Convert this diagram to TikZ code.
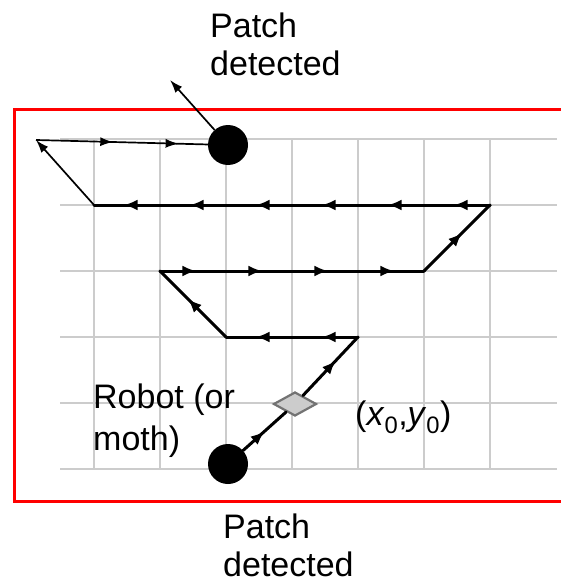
\documentclass[tikz,border=0pt]{standalone}
\usepackage{fontspec}
\setmainfont{Liberation Sans}
\usetikzlibrary{arrows.meta, shapes.geometric, decorations.markings}

\begin{document}
\begin{tikzpicture}[x=1pt, y=-1pt, >={Latex[length=14pt,width=11pt]},
    gridline/.style={black!20, line width=1.6pt},
    leg/.style={line width=3pt, line cap=round, postaction={decorate},
      decoration={markings, mark=at position #1 with {\arrow{>}}}},
    leg/.default=0.55,
    trail/.style={line width=1.7pt, >={Latex[length=13pt,width=9pt]}},
    blob/.style={circle, fill=black, minimum size=40pt, inner sep=0pt},
    txt/.style={font=\fontsize{34}{38}\selectfont, align=left, inner sep=0pt}]
  \useasboundingbox (0,0) rectangle (560,583);
  % search area
  \draw[red, line width=3pt] (14,110) rectangle (600,501);
  % grid
  \foreach \i in {0,...,6}
    \draw[gridline] (94+66*\i,139) -- (94+66*\i,469);
  \foreach \j in {0,...,5}
    \draw[gridline] (60,139+66*\j) -- (557,139+66*\j);
  \foreach \i in {0,...,6}
    \foreach \j in {0,...,5}
      \coordinate (g\i\j) at (94+66*\i,139+66*\j);

  \node[blob] (robot) at (228,464) {};
  \node[blob] (patch) at (228,145) {};
  \node[diamond, draw=black!55, fill=black!20, line width=2.2pt, minimum width=43pt,
    minimum height=24pt, inner sep=0pt] (start) at (295,404) {};
  \coordinate (turn) at (36,140);
  \coordinate (escape) at (170,80);

  % spiral
  \draw[leg=0.5] (robot) -- (start);
  \draw[leg=0.6] (start) -- (g43);
  \draw[leg] (g43) -- (g33);
  \draw[leg] (g33) -- (g23);
  \draw[leg=0.58] (g23) -- (g12);
  \foreach \i/\k in {1/2, 2/3, 3/4, 4/5}
    \draw[leg] (g\i2) -- (g\k2);
  \draw[leg=0.58] (g52) -- (g61);
  \foreach \i/\k in {6/5, 5/4, 4/3, 3/2, 2/1, 1/0}
    \draw[leg] (g\i1) -- (g\k1);

  % way back to the patch
  \draw[trail, ->] (g01) -- (turn);
  \draw[trail, postaction={decorate}, decoration={markings,
      mark=at position 0.45 with {\arrow{>}},
      mark=at position 0.83 with {\arrow{>}}}] (turn) -- (patch);
  \draw[trail, ->] (patch) -- (escape);

  % labels
  \node[txt, anchor=north west] (toplabel) at (210,13) {Patch\\detected};
  \node[txt, anchor=north west] (botlabel) at (223,514) {Patch\\detected};
  \node[txt, anchor=north west, font=\fontsize{34}{42}\selectfont] (robotlabel)
    at (93,384) {Robot (or\\moth)};
  \node[txt, anchor=base west] (startlabel) at (355,425)
    {(\textit{x}\textsubscript{0},\textit{y}\textsubscript{0})};
\end{tikzpicture}
\end{document}
